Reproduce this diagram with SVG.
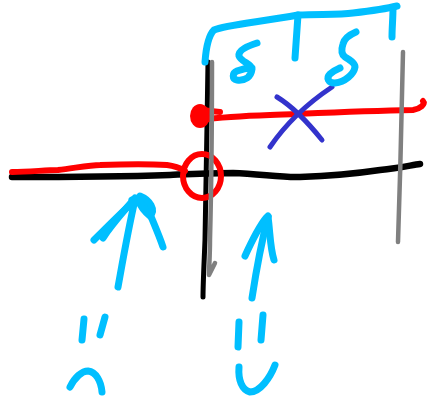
<svg xmlns="http://www.w3.org/2000/svg" width="429" height="400" viewBox="0 0 429 400">
<style>
path{fill:none;stroke-linecap:round;stroke-linejoin:round}
.k{stroke:#000}
.g{stroke:#808080;stroke-width:4.5}
.r{stroke:#ff0000;stroke-width:6}
.c{stroke:#00bfff;stroke-width:7}
.b{stroke:#3333cc;stroke-width:5}
</style>
<rect width="429" height="400" fill="#fff"/>
<!-- black axes -->
<path class="k" stroke-width="6.5" d="M12,177 C60,177 140,176 170,175 C190,174 205,173 233,173 C260,174 285,178 300,177 C330,176 360,173 380,170 C400,168 412,165 420,164"/>
<path class="k" stroke-width="5" d="M208,62 C207,120 206,200 205,240 C204,265 203,285 203,297"/>
<!-- red lines -->
<path class="r" stroke-width="7" d="M12,172 C30,172 45,170 58,170 C75,168 90,165 100,165 C130,164 150,164 167,165 C175,166 180,168 185,171"/>
<ellipse cx="202" cy="176" rx="19" ry="22" fill="none" stroke="#ff0000" stroke-width="6"/>
<ellipse cx="200" cy="116" rx="10" ry="12" fill="#ff0000"/>
<path class="r" stroke-width="13" d="M201,110 L220,112"/>
<path class="r" d="M200,120 C215,118 240,116 270,115 C320,113 360,111 413,110 C420,109 426,104 423,101"/>
<!-- gray verticals -->
<path class="g" d="M212,62 C212,130 211,200 210,240 C210,255 209,268 209,275 L215,263"/>
<path class="g" d="M403,52 C402,110 400,180 398,242"/>
<!-- blue X -->
<path class="b" d="M277,97 C295,108 310,125 322,140"/>
<path class="b" d="M332,87 C305,105 285,125 270,147"/>
<!-- cyan bracket -->
<path class="c" d="M205,62 C206,48 208,36 214,30 C225,25 260,22 298,15 C320,14 340,15 353,13 C370,11 385,9 397,6"/>
<path class="c" d="M298,15 C297,30 296,45 295,58"/>
<path class="c" d="M393,8 C393,18 392,28 392,37"/>
<!-- deltas -->
<path class="c" stroke-width="6" d="M257,43 C248,46 238,50 239,56 C241,62 252,64 252,69 C251,77 245,81 237,80 C232,79 232,73 237,71 C242,69 247,68 252,68"/>
<path class="c" stroke-width="6" d="M356,32 C349,35 344,39 343,44 C341,50 341,54 345,57 C350,60 355,63 355,67 C354,74 345,82 335,83 C328,83 326,78 330,74 C334,70 338,69 340,68"/>
<!-- left arrow -->
<path class="c" stroke-width="10" d="M118,287 C122,265 128,230 135,200"/>
<path class="c" d="M135,200 C122,212 108,226 94,240"/>
<path class="c" stroke-width="5" d="M135,198 C125,210 112,224 103,238"/>
<path class="c" d="M132,200 C138,196 144,198 146,204 C150,215 158,232 163,247"/>
<path class="c" stroke-width="5" d="M140,196 C150,200 156,210 150,216 C145,212 140,205 138,200"/>
<!-- right arrow -->
<path class="c" stroke-width="5" d="M252,298 C256,272 262,240 268,217"/>
<path class="c" stroke-width="8" d="M245,256 C250,245 258,228 266,218 L268,216"/>
<path class="c" stroke-width="5" d="M268,217 C270,230 270,248 274,260"/>
<!-- frowny -->
<path class="c" stroke-width="4" d="M84,319 L82,340"/>
<path class="c" stroke-width="3" d="M105,317 L100,335"/>
<path class="c" stroke-width="5" d="M70,387 C75,377 82,371 88,371 C96,372 101,381 102,392"/>
<!-- smiley -->
<path class="c" stroke-width="4.5" d="M239,322 L238,347"/>
<path class="c" stroke-width="3" d="M263,315 L261,340"/>
<path class="c" stroke-width="5.5" d="M239,367 C238,380 242,390 250,392 C260,392 270,378 275,365"/>
</svg>
